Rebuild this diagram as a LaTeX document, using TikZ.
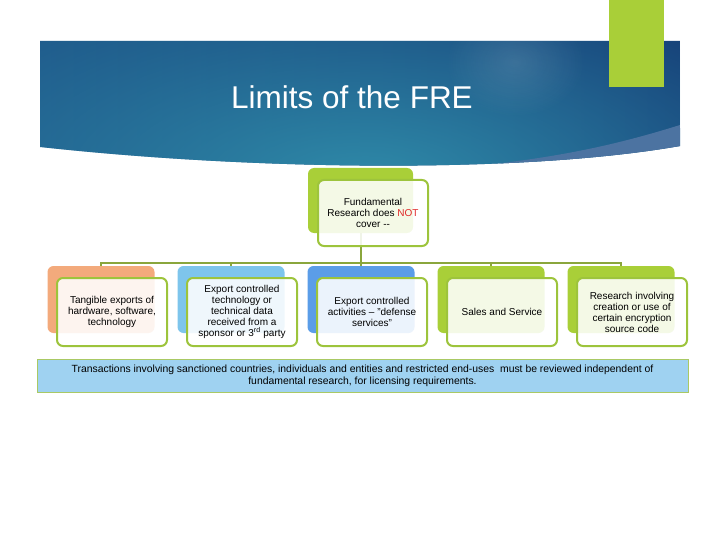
\documentclass[tikz,border=0pt]{standalone}
\usepackage{fontspec}
\setmainfont{Liberation Sans}
\usetikzlibrary{fadings}
\definecolor{bandarkL}{HTML}{1F5A8B}
\definecolor{bandarkR}{HTML}{153D76}
\definecolor{banteal}{HTML}{2F8BA9}
\definecolor{stripecol}{HTML}{4C73A1}
\definecolor{lime}{HTML}{A9CF38}
\definecolor{frontborder}{HTML}{9DC43C}
\definecolor{conncol}{HTML}{8AA63C}
\definecolor{orangebk}{HTML}{F3AA7C}
\definecolor{skybk}{HTML}{7EC5EC}
\definecolor{bluebk}{HTML}{5B9DE8}
\definecolor{notred}{HTML}{E02828}
\definecolor{barfill}{HTML}{9FD2F1}
\definecolor{barline}{HTML}{A9C964}
\tikzfading[name=glow, inner color=transparent!0, outer color=transparent!100]
\tikzset{
  backbox/.style={draw=none, rounded corners=6pt, minimum width=107pt, minimum height=67pt, inner sep=0pt},
  frontbox/.style={draw=frontborder, line width=2pt, fill=white, fill opacity=0.88, text opacity=1,
    rounded corners=6pt, minimum width=110pt, minimum height=68pt, inner sep=2pt, align=center,
    font=\fontsize{10}{11}\selectfont},
  connector/.style={draw=conncol, line width=2pt}
}
\begin{document}
\begin{tikzpicture}[x=1pt,y=-1pt]
\useasboundingbox (0,0) rectangle (720,540);
% banner
\def\bannerpath{(40,41) -- (680,41) -- (680,146) .. controls (520,174) and (250,170) .. (40,147) -- cycle}
\begin{scope}
  \clip \bannerpath;
  \shade[left color=bandarkL, right color=bandarkR] (40,41) rectangle (680,180);
  \fill[banteal, path fading=glow] (365,182) ellipse [x radius=500pt, y radius=210pt];
  \fill[white, opacity=0.12, path fading=glow] (515,62) ellipse [x radius=70pt, y radius=55pt];
  \fill[stripecol] (680,125) .. controls (600,150) and (540,160) .. (440,170) -- (440,200) -- (700,200) -- cycle;
\end{scope}
\fill[lime] (609,0) rectangle (664,87);
\node[text=white, font=\fontsize{31.5}{36}\selectfont, anchor=base] (title) at (352,109) {Limits of the FRE};
% back boxes
\node[backbox, fill=lime, minimum width=105pt, minimum height=65pt] (tb) at (360.5,200.5) {};
\node[backbox, fill=orangebk] (b1) at (101,299.5) {};
\node[backbox, fill=skybk] (b2) at (231,299.5) {};
\node[backbox, fill=bluebk] (b3) at (361,299.5) {};
\node[backbox, fill=lime] (b4) at (491,299.5) {};
\node[backbox, fill=lime] (b5) at (621,299.5) {};
% connectors
\coordinate (bus) at (0,263);
\draw[connector] (tb.south) -- (tb.south |- bus);
\draw[connector, line cap=rect] (b1.north |- bus) -- (b5.north |- bus);
\foreach \i in {1,...,5} \draw[connector] (b\i.north |- bus) -- (b\i.north);
% front boxes
\node[frontbox, minimum height=66pt] (tf) at (373,213) {Fundamental\\Research does \textcolor{notred}{NOT}\\cover -{}-};
\node[frontbox] (f1) at (112,312) {Tangible exports of\\hardware, software,\\technology};
\node[frontbox] (f2) at (242,312) {Export controlled\\technology or\\technical data\\received from a\\sponsor or 3\textsuperscript{rd} party};
\node[frontbox] (f3) at (372,312) {Export controlled\\activities – \char"0022 defense\\services\char"0022};
\node[frontbox] (f4) at (502,312) {Sales and Service};
\node[frontbox] (f5) at (632,312) {Research involving\\creation or use of\\certain encryption\\source code};
% bottom bar
\node[draw=barline, fill=barfill, line width=0.8pt, minimum width=651pt, minimum height=33pt, inner sep=0pt,
  align=center, font=\fontsize{10.4}{12}\selectfont] (bar) at (362.5,375.5)
  {Transactions involving sanctioned countries, individuals and entities and restricted end-uses \ must be reviewed independent of\\fundamental research, for licensing requirements.};
\end{tikzpicture}
\end{document}
